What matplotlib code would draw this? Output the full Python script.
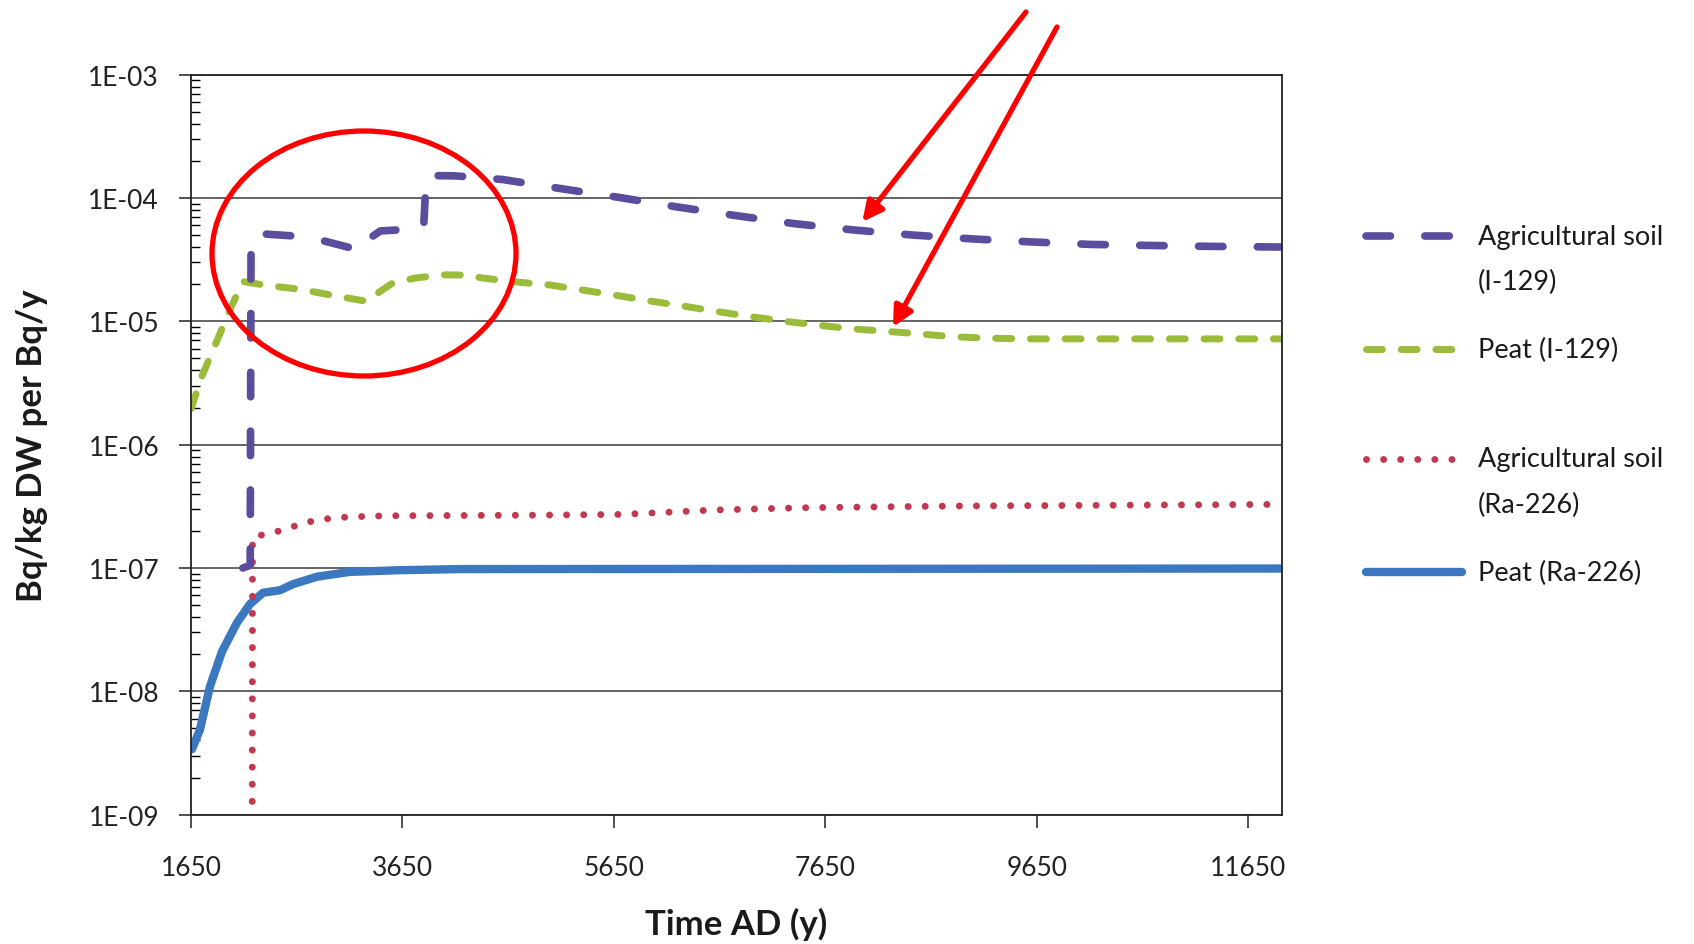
import numpy as np
import matplotlib.pyplot as plt
from matplotlib.lines import Line2D
from matplotlib.patches import Ellipse
from matplotlib.ticker import LogLocator, NullFormatter, FuncFormatter

plt.rcParams['font.family'] = ['Lato', 'DejaVu Sans']

W, H = 1694, 945

##########################################################
## data

# Agricultural soil (I-129)
ag_i_year = [2140, 2210, 2218, 2240, 2350, 2650, 2900, 3180, 3320, 3370, 3440,
             3600, 3850, 3875, 4150, 4600, 5150, 5700, 6250, 6800, 7350, 7920,
             8480, 9050, 9600, 10160, 10720, 11290, 11970]
ag_i_val = [1.0e-7, 1.05e-7, 4.8e-5, 5.1e-5, 5.1e-5, 4.9e-5, 4.5e-5, 3.9e-5,
            3.8e-5, 4.9e-5, 5.4e-5, 5.5e-5, 5.6e-5, 1.52e-4, 1.51e-4, 1.41e-4,
            1.19e-4, 1.01e-4, 8.45e-5, 7.2e-5, 6.2e-5, 5.5e-5, 5.0e-5, 4.65e-5,
            4.4e-5, 4.2e-5, 4.12e-5, 4.05e-5, 4.0e-5]

# Peat (I-129)
peat_i_year = [1650, 1754, 1849, 1943, 2028, 2142, 2369, 2681, 2994, 3315, 3440,
               3561, 3780, 4050, 4250, 4413, 4734, 5046, 5359, 5680, 5993, 6305,
               6627, 6948, 7270, 7582, 7894, 8225, 8538, 8860, 9180, 9600, 11970]
peat_i_val = [1.95e-6, 3.6e-6, 5.6e-6, 8.7e-6, 1.3e-5, 2.1e-5, 1.95e-5, 1.82e-5,
              1.62e-5, 1.45e-5, 1.75e-5, 2.05e-5, 2.25e-5, 2.38e-5, 2.37e-5,
              2.24e-5, 2.08e-5, 1.97e-5, 1.79e-5, 1.62e-5, 1.46e-5, 1.33e-5,
              1.2e-5, 1.09e-5, 1.0e-5, 9.3e-6, 8.7e-6, 8.3e-6, 7.9e-6, 7.5e-6,
              7.3e-6, 7.2e-6, 7.2e-6]

# Agricultural soil (Ra-226)
ag_ra_year = [2228, 2232, 2380, 2540, 2700, 2850, 3010, 3170, 3480, 4900, 5730,
              6590, 7440, 8870, 11970]
ag_ra_val = [1e-10, 1.78e-7, 1.9e-7, 2.05e-7, 2.3e-7, 2.45e-7, 2.55e-7, 2.6e-7,
             2.65e-7, 2.68e-7, 2.72e-7, 2.95e-7, 3.08e-7, 3.18e-7, 3.28e-7]

# Peat (Ra-226)
peat_ra_year = [1660, 1735, 1830, 1943, 2085, 2208, 2331, 2492, 2615, 2842, 3154,
                3627, 4200, 11970]
peat_ra_val = [3.4e-9, 4.9e-9, 1.1e-8, 2.1e-8, 3.6e-8, 5.1e-8, 6.3e-8, 6.6e-8,
               7.4e-8, 8.5e-8, 9.3e-8, 9.6e-8, 9.8e-8, 9.9e-8]

x_ticks = [1650, 3650, 5650, 7650, 9650, 11650]

##########################################################
## styles

st_ag_i = dict(color='#5B4C9E', lw=5.5, dashes=(3.2, 4.5), dash_capstyle='round')
st_peat_i = dict(color='#9BBB3A', lw=5.0, dashes=(2.3, 2.7), dash_capstyle='round')
st_ag_ra = dict(color='#C0394F', lw=5.0, dashes=(0.01, 2.45), dash_capstyle='round')
st_peat_ra = dict(color='#3B78BF', lw=6.0, solid_capstyle='round')


def fx(px):
    return px / W


def fy(py):
    return 1 - py / H


fig = plt.figure(figsize=(W / 100, H / 100), dpi=100)
ax = fig.add_axes([fx(191), fy(815.7), (1282 - 191) / W, (815.7 - 75.6) / H])

ax.plot(peat_ra_year, peat_ra_val, **st_peat_ra)
ax.plot(ag_ra_year, ag_ra_val, **st_ag_ra)
ax.plot(peat_i_year, peat_i_val, **st_peat_i)
ax.plot(ag_i_year, ag_i_val, **st_ag_i)

ax.set_yscale('log')
ax.set_ylim(1e-9, 1e-3)
ax.set_xlim(1650, 11970)
ax.set_xticks(x_ticks)
ax.yaxis.set_major_locator(LogLocator(base=10, numticks=10))
ax.yaxis.set_minor_locator(LogLocator(base=10, subs=np.arange(2, 10), numticks=20))
ax.yaxis.set_minor_formatter(NullFormatter())
ax.yaxis.set_major_formatter(FuncFormatter(lambda v, p: '1E-%02d' % round(-np.log10(v))))

ax.tick_params(axis='y', which='major', direction='out', length=9, width=1.1,
               pad=14, labelsize=19, colors='#222222')
ax.tick_params(axis='y', which='minor', direction='in', length=6.5, width=1.0)
ax.tick_params(axis='x', which='major', direction='out', length=9, width=1.1,
               pad=20, labelsize=19, colors='#222222')
ax.grid(axis='y', which='major', color='#3a3a3a', lw=1.1)
ax.set_axisbelow(True)
for s in ax.spines.values():
    s.set_linewidth(1.3)
    s.set_color('#222222')

fig.text(fx(32), fy(446), 'Bq/kg DW per Bq/y', rotation=90, ha='center',
         va='center', fontsize=25, fontweight='bold', color='#1a1a1a')
fig.text(fx(736), fy(924), 'Time AD (y)', ha='center', va='center',
         fontsize=25, fontweight='bold', color='#1a1a1a')

##########################################################
## legend, drawn by hand (handles sit on the first text line)

leg_rows = [(st_ag_i, ['Agricultural soil', '(I-129)'], 237),
            (st_peat_i, ['Peat (I-129)'], 350),
            (st_ag_ra, ['Agricultural soil', '(Ra-226)'], 460),
            (st_peat_ra, ['Peat (Ra-226)'], 573)]
for st, lines, py in leg_rows:
    fig.add_artist(Line2D([fx(1366), fx(1462)], [fy(py), fy(py)],
                          transform=fig.transFigure, **st))
    for k, t in enumerate(lines):
        fig.text(fx(1478), fy(py + 45 * k), t, ha='left', va='center',
                 fontsize=19.5, color='#1a1a1a')

##########################################################
## red highlight ellipse and arrows

fig.add_artist(Ellipse((fx(364), fy(254.5)), 304 / W, 245 / H,
                       transform=fig.transFigure, fill=False,
                       ec='#FF0000', lw=3.8))

arr = dict(arrowstyle='-|>,head_length=0.6,head_width=0.3', color='#FF0000',
           lw=3.8, mutation_scale=20, shrinkA=0, shrinkB=0)
ax.annotate('', xy=(8000, 6.4e-5), xycoords='data', xytext=(fx(1026), fy(13)),
            textcoords='figure fraction', arrowprops=arr, annotation_clip=False)
ax.annotate('', xy=(8290, 9.0e-6), xycoords='data', xytext=(fx(1057), fy(28)),
            textcoords='figure fraction', arrowprops=arr, annotation_clip=False)

fig.savefig('out.png', dpi=100)
